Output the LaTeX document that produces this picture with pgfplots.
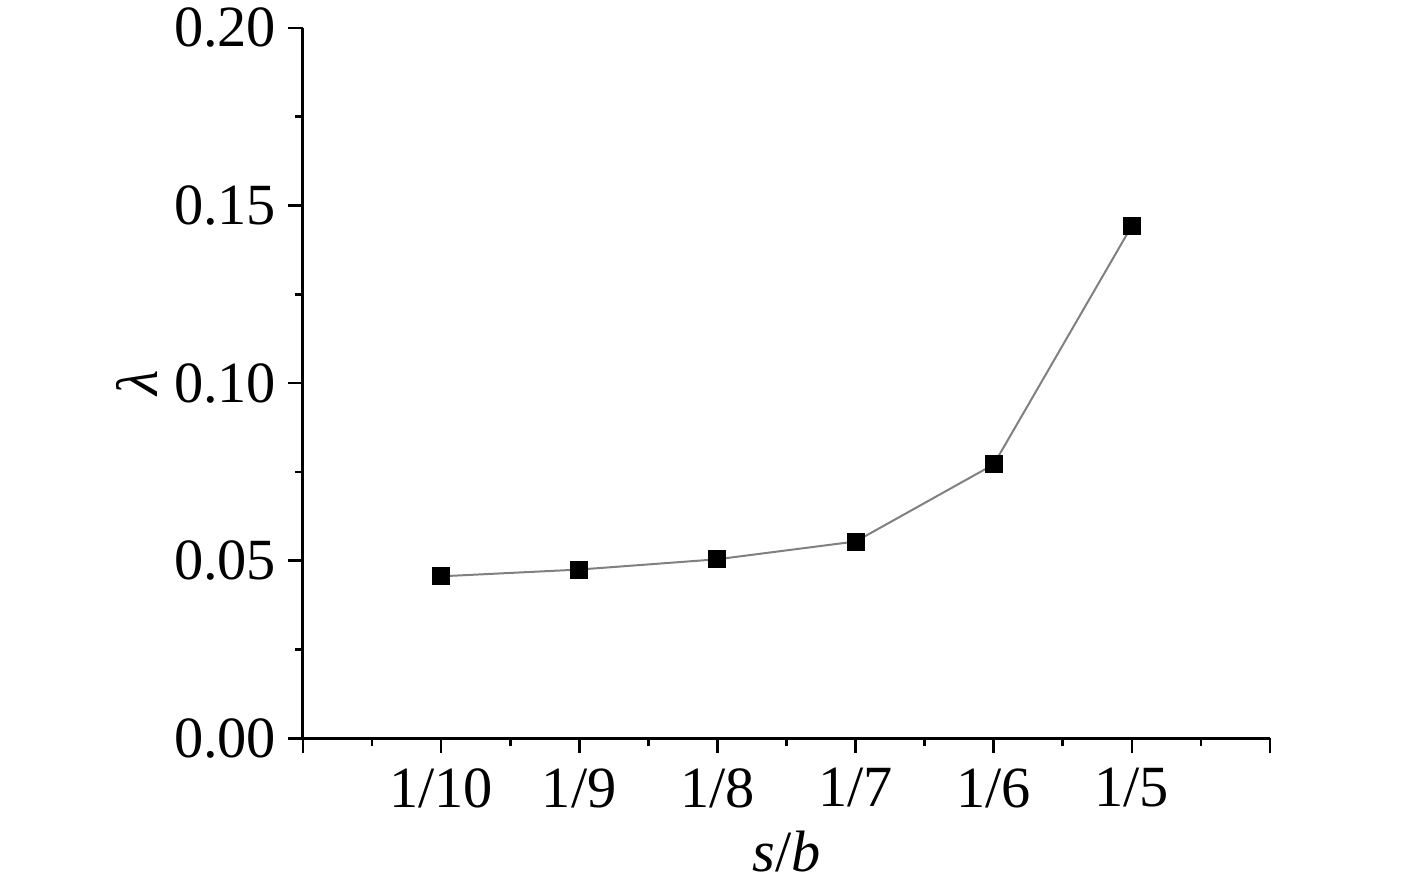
\documentclass[border=0pt]{standalone}
\usepackage{fontspec}
\setmainfont{Liberation Serif}
\usepackage{pgfplots}
\pgfplotsset{compat=1.18}

\begin{document}
\begin{tikzpicture}
\begin{axis}[
  scale only axis, width=290pt, height=213pt,
  axis lines*=left,
  axis line style={line width=0.9pt},
  xmin=0, xmax=7, ymin=0, ymax=0.2,
  xtick={0,...,7},
  xticklabels={,1/10,1/9,1/8,1/7,1/6,1/5,},
  minor x tick num=1,
  ytick={0,0.05,0.10,0.15,0.20},
  minor y tick num=1,
  yticklabel style={/pgf/number format/.cd,fixed,fixed zerofill,precision=2},
  /pgf/number format/assume math mode=true,
  tick align=outside,
  major tick length=4.5pt, minor tick length=2.4pt,
  every tick/.style={line width=0.8pt, black},
  tick label style={font=\fontsize{17.5}{20}\selectfont},
  label style={font=\fontsize{17.5}{20}\selectfont},
  xticklabel style={yshift=-1pt},
  xlabel={\textit{s}/\textit{b}},
  ylabel={\textit{λ}},
  xlabel style={yshift=0pt},
  ylabel style={yshift=-2pt},
  clip=false,
]
\addplot[gray, line width=0.6pt, mark=square*, mark size=2.4pt,
  mark options={black, solid}]
  coordinates {(1,0.0456) (2,0.0475) (3,0.0504) (4,0.0554) (5,0.0771) (6,0.1443)};
\coordinate (bbsw) at (rel axis cs:-0.3133,-0.2025);
\coordinate (bbne) at (rel axis cs:1.152,1.0394);
\end{axis}
\pgfresetboundingbox
\path (bbsw) rectangle (bbne);
\end{tikzpicture}
\end{document}
